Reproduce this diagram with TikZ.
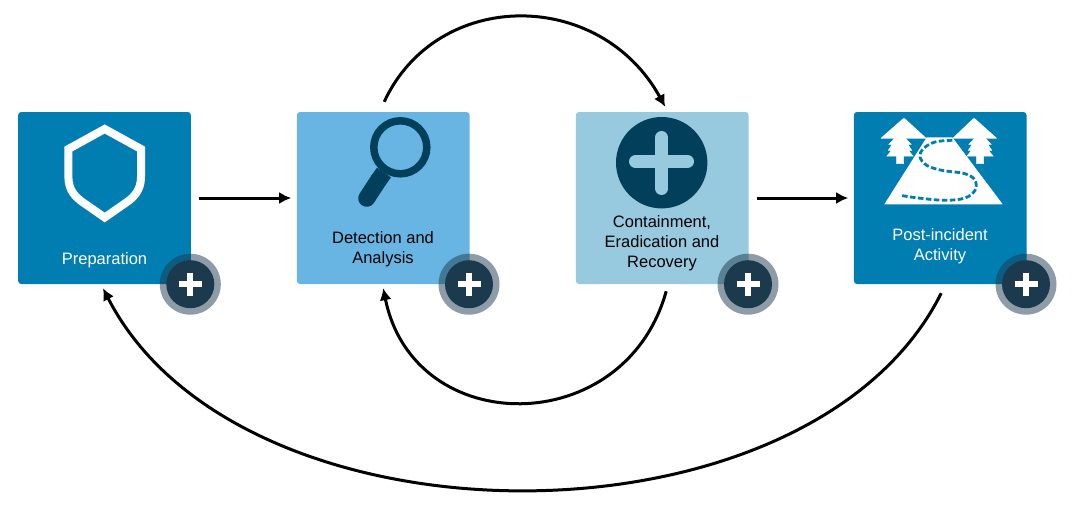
\documentclass[tikz,border=0pt]{standalone}
\usepackage{fontspec}
\setmainfont{Liberation Sans}
\usepackage{tikz}
\usetikzlibrary{arrows.meta,calc}
\definecolor{phasedark}{HTML}{007DB1}
\definecolor{phasesky}{HTML}{68B5E3}
\definecolor{phasepale}{HTML}{98CADF}
\definecolor{icondark}{HTML}{023F5B}
\definecolor{badgedark}{HTML}{1B3A4D}
\tikzset{
  phase/.style={rectangle,rounded corners=3pt,minimum width=172.6pt,minimum height=172pt,inner sep=0pt},
  caption/.style={align=center,inner sep=0pt,font=\fontsize{16.5}{20}\selectfont},
  flow/.style={-{Latex[length=12pt,width=12pt]},line width=3pt,black},
  badgering/.style={circle,fill=badgedark,fill opacity=0.5,minimum size=61pt,inner sep=0pt},
  badgecore/.style={circle,fill=badgedark,minimum size=48pt,inner sep=0pt},
}
\begin{document}
\begin{tikzpicture}[x=1pt,y=-1pt]
\useasboundingbox (0,0) rectangle (1073,509);
% phase boxes
\node[phase,fill=phasedark] (prep) at (104.5,198) {};
\node[phase,fill=phasesky] (detect) at (383.2,198) {};
\node[phase,fill=phasepale] (contain) at (662.2,198) {};
\node[phase,fill=phasedark] (post) at (940.2,198) {};
% captions
\node[caption,white] (preptext) at (104.5,260) {Preparation};
\node[caption,black] (detecttext) at (383,249) {Detection and\\Analysis};
\node[caption,black] (containtext) at (662,243) {Containment,\\Eradication and\\Recovery};
\node[caption,white] (posttext) at (940,246) {Post-incident\\Activity};
% shield
\draw[white,line width=8pt,miter limit=10] (104.7,129) -- (141,149) -- (141,177) .. controls (141,190) and (134,197) .. (127,202) -- (104.7,217.5) -- (82.4,202) .. controls (75.4,197) and (68.4,190) .. (68.4,177) -- (68.4,149) -- cycle;
% magnifier
\draw[icondark,line width=7.5pt] (400.3,147.3) circle (26.5);
\draw[icondark,line width=17pt,line cap=round] (366.7,198.3) -- (378,181);
\draw[icondark,line width=17pt] (378,181) -- (384,172.5);
% plus disc
\fill[icondark] (661.7,162.7) circle (45.7);
\draw[phasepale,line width=13pt,line cap=round] (661.7,137.5) -- (661.7,188.5);
\draw[phasepale,line width=13pt,line cap=round] (635.5,161.5) -- (687.5,161.5);
% trees and mountain
\foreach \x/\a/\l/\r in {900/904/880/927,980/974/952/997.5}{
  \fill[white,rounded corners=1pt] (\a,117.7) -- (\r,138.7) -- (\l,138.7) -- cycle;
  \draw[white,line width=0.5pt,fill=white] (\x,132.7) -- ++(11,11.6) -- ++(-3.3,0) -- ++(4,6) -- ++(-3.4,0) -- ++(4.7,5.7) -- ++(-9.5,0) -- ++(0,7.7) -- ++(-7,0) -- ++(0,-7.7) -- ++(-9.5,0) -- ++(4.7,-5.7) -- ++(-3.4,0) -- ++(4,-6) -- ++(-3.3,0) -- cycle;
}
\fill[white] (926.7,137.3) -- (952.3,137.3) -- (1002.7,204.3) -- (884.3,204.3) -- cycle;
\draw[phasedark,line width=2.8pt,dash pattern=on 5.5pt off 2.5pt] plot[smooth,tension=0.6] coordinates {(952.3,140.3) (935,142) (923.3,148.7) (920,157) (926.7,165.3) (941.7,170.3) (965,173.7) (975,180.3) (975,190.3) (965,198) (945,200.3) (918.3,198) (900,195.3)};
% plus badges on the corners
\foreach \b in {prep,detect,contain,post}{
  \node[badgering] (ring\b) at ($(\b.south east)+(-0.7,0)$) {};
  \node[badgecore] (core\b) at ($(\b.south east)+(-0.7,0)$) {};
  \draw[white,line width=6pt] ($(core\b)+(-11.5,0)$) -- ($(core\b)+(11.5,0)$);
  \draw[white,line width=6pt] ($(core\b)+(0,-11.5)$) -- ($(core\b)+(0,11.5)$);
}
% straight arrows
\draw[flow,shorten <=8pt,shorten >=5.5pt] (prep.east) -- (detect.west);
\draw[flow,shorten <=8pt,shorten >=5.5pt] (contain.east) -- (post.west);
% loops
\draw[flow] ($(detect.north)+(1,-10)$) .. controls (437,-12) and (600,-12) .. ($(contain.north)+(3,-5)$);
\draw[flow] ($(contain.south)+(4,7)$) .. controls (625,440) and (414,440) .. ($(detect.south)+(0,4)$);
\draw[flow] ($(post.south)+(1,9)$) .. controls (810,556) and (240,556) .. ($(prep.south)+(-1.5,4)$);
\end{tikzpicture}
\end{document}
